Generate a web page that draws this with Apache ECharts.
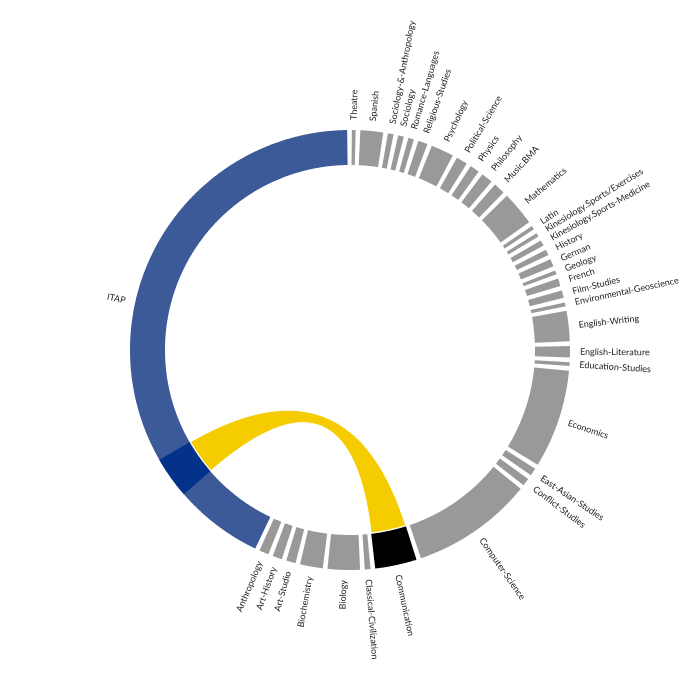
<!DOCTYPE html>
<html><head><meta charset="utf-8">
<script src="https://cdn.jsdelivr.net/npm/echarts@6/dist/echarts.min.js"></script>
<style>html,body{margin:0;padding:0;background:#fff}#c{width:700px;height:700px}</style>
</head><body><div id="c"></div>
<script>
// ---- data ----
const departments = ['Anthropology','Art-History','Art-Studio','Biochemistry','Biology','Classical-Civilization','Communication','Computer-Science','Conflict-Studies','East-Asian-Studies','Economics','Education-Studies','English-Literature','English-Writing','Environmental-Geoscience','Film-Studies','French','Geology','German','History','Kinesiology.Sports-Medicine','Kinesiology.Sports/Exercises','Latin','Mathematics','Music.BMA','Philosophy','Physics','Political-Science','Psychology','Religious-Studies','Romance-Languages','Sociology','Sociology-&-Anthropology','Spanish','Theatre'];
const deptCounts = [5,5,5,12,17,3,22,64,4,4,52,2,6,16,2,4,4,2,4,3,3,2,2,18,6,6,5,6,12,5,3,3,3,12,2];
const hubName = 'ITAP';
const hubCount = 307;
const linkedDept = 'Communication';

// ---- layout helpers ----
const names = departments.concat([hubName]);
const values = deptCounts.concat([hubCount]);
const PAD = 2.44;
const total = values.reduce((a, b) => a + b, 0) + PAD * values.length;
const starts = [];
let acc = 0;
values.forEach(v => { starts.push(acc + PAD / 2); acc += v + PAD; });
const hubIdx = names.length - 1;
const linkIdx = departments.indexOf(linkedDept);
const linkValue = deptCounts[linkIdx];
const linkOffset = deptCounts.slice(0, linkIdx).reduce((a, b) => a + b, 0);

const R_IN = 185 / 220, R_OUT = 1, R_LABEL = 230 / 220, R_RIB = 184 / 220;
const COL = { hub: '#3c5998', chunk: '#04328a', ribbon: '#f5cc00', link: '#000000', other: '#999999' };

function arc(api, r, u0, u1) {
  const n = Math.max(2, Math.ceil(Math.abs(u1 - u0) / 0.4) + 1);
  const pts = [];
  for (let i = 0; i < n; i++) pts.push(api.coord([r, u0 + (u1 - u0) * i / (n - 1)]));
  return pts;
}
function band(api, u0, u1) {
  return arc(api, R_OUT, u0, u1).concat(arc(api, R_IN, u1, u0));
}
function bez(p0, c, p2) {
  const pts = [];
  for (let i = 1; i < 40; i++) {
    const t = i / 40, a = (1 - t) * (1 - t), b = 2 * (1 - t) * t, d = t * t;
    pts.push([a * p0[0] + b * c[0] + d * p2[0], a * p0[1] + b * c[1] + d * p2[1]]);
  }
  return pts;
}

const chart = echarts.init(document.getElementById('c'));
chart.setOption({
  animation: false,
  backgroundColor: '#fff',
  polar: { center: ['50%', '50%'], radius: 220 },
  radiusAxis: { type: 'value', min: 0, max: 1, show: false },
  angleAxis: { type: 'value', min: 0, max: total, startAngle: 245.1, clockwise: false, show: false },
  series: [
    {
      type: 'custom', coordinateSystem: 'polar', silent: true, z: 1,
      data: [[R_RIB, starts[linkIdx]]],
      renderItem: function (params, api) {
        const hubEnd = starts[hubIdx] + hubCount;
        const s0 = hubEnd - linkOffset, s1 = hubEnd - linkOffset - linkValue;
        const t0 = starts[linkIdx] + linkValue, t1 = starts[linkIdx];
        const c = api.coord([0, 0]);
        const A = arc(api, R_RIB, s0, s1);
        const B = arc(api, R_RIB, t0, t1);
        const pts = A.concat(bez(A[A.length - 1], c, B[0]), B, bez(B[B.length - 1], c, A[0]));
        return { type: 'polygon', shape: { points: pts }, style: { fill: COL.ribbon, stroke: '#fff', lineWidth: 1 } };
      }
    },
    {
      type: 'custom', coordinateSystem: 'polar', silent: true, z: 2,
      data: names.map((n, i) => [R_OUT, starts[i]]),
      renderItem: function (params, api) {
        const i = params.dataIndex;
        const u0 = starts[i], u1 = starts[i] + values[i];
        const fill = i === hubIdx ? COL.hub : (i === linkIdx ? COL.link : COL.other);
        const c = api.coord([0, 0]);
        const p = api.coord([R_LABEL, (u0 + u1) / 2]);
        const ang = Math.atan2(p[1] - c[1], p[0] - c[0]);
        const right = p[0] >= c[0];
        return {
          type: 'group',
          children: [
            { type: 'polygon', shape: { points: band(api, u0, u1) }, style: { fill: fill } },
            { type: 'text', x: p[0], y: p[1], rotation: right ? -ang : Math.PI - ang,
              style: { text: names[i], fill: '#222', fontSize: 9, fontFamily: 'Lato', align: right ? 'left' : 'right', verticalAlign: 'middle' } }
          ]
        };
      }
    },
    {
      type: 'custom', coordinateSystem: 'polar', silent: true, z: 3,
      data: [[R_OUT, starts[hubIdx]]],
      renderItem: function (params, api) {
        const hubEnd = starts[hubIdx] + hubCount;
        const a = hubEnd - linkOffset - linkValue, b = hubEnd - linkOffset;
        return { type: 'polygon', shape: { points: band(api, a, b) }, style: { fill: COL.chunk } };
      }
    }
  ]
});
</script></body></html>
